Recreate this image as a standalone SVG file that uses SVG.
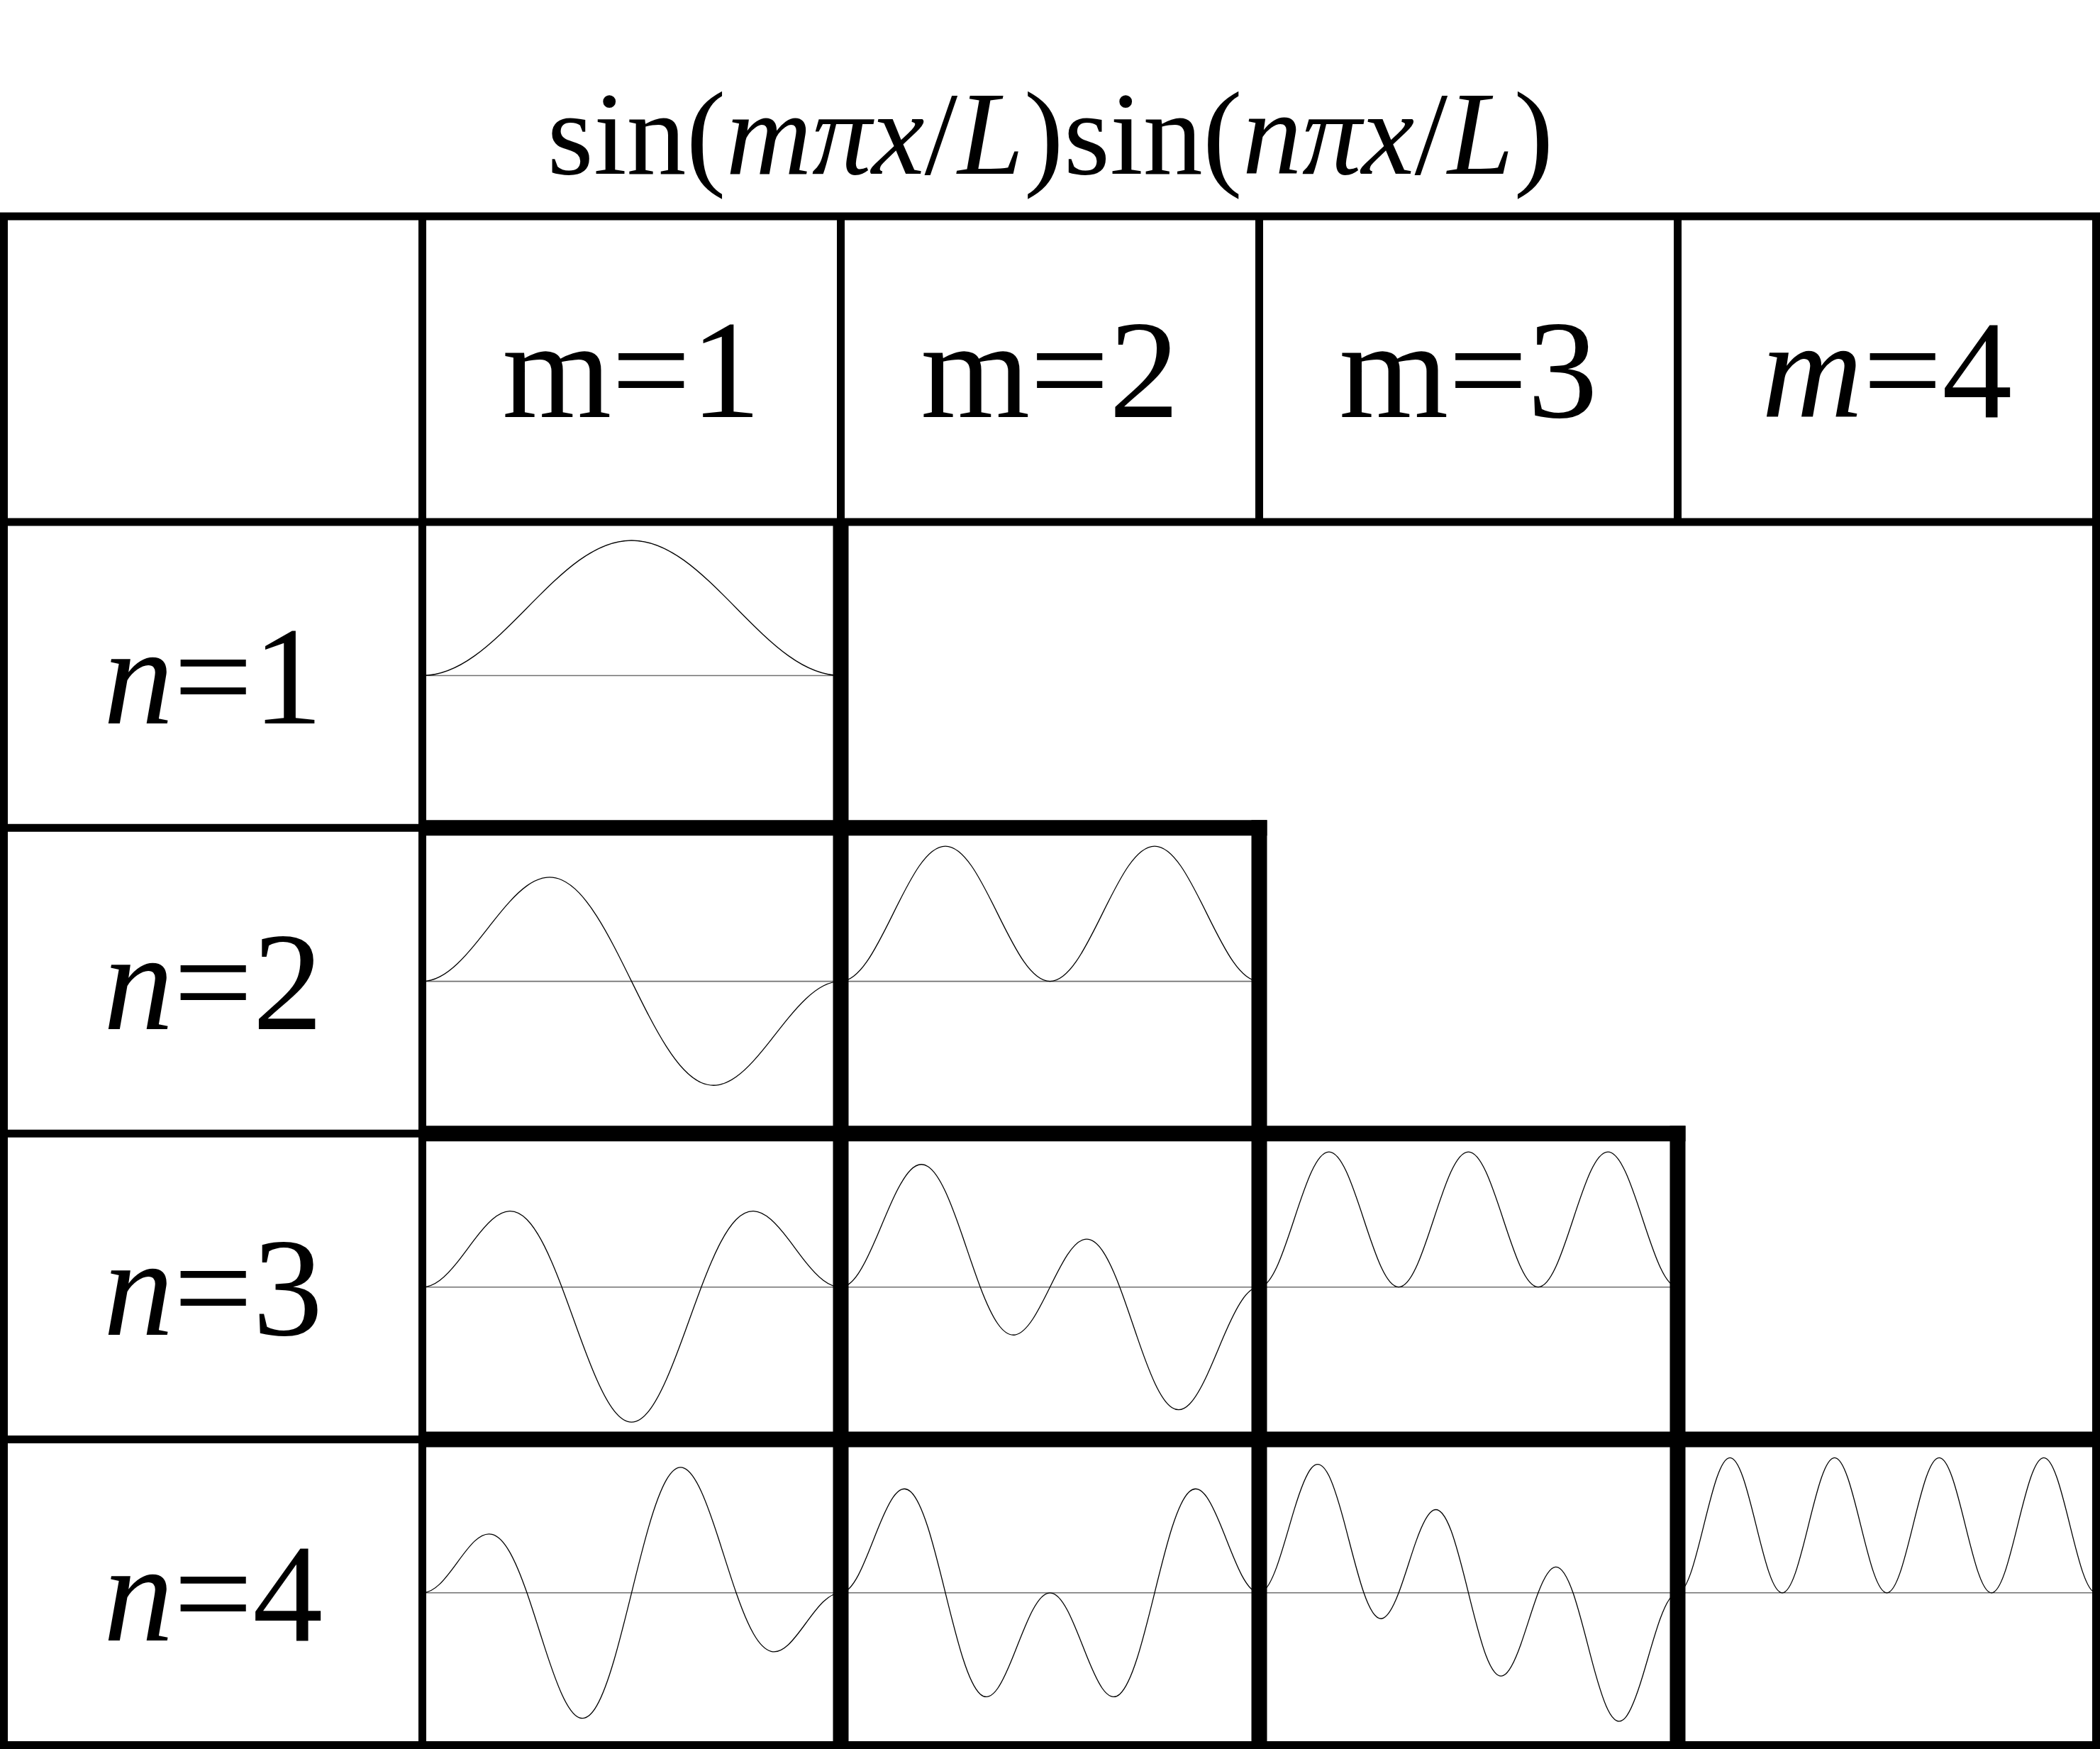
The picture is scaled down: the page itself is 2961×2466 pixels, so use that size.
<svg xmlns="http://www.w3.org/2000/svg" width="2961" height="2466" viewBox="0 0 2961 2466">
<style>
.t{font-family:"Liberation Serif","Times New Roman",serif;fill:#000}
.lbl{font-size:198px;text-anchor:middle}
.ttl{font-size:168px;text-anchor:middle}
.i{font-style:italic}
.thin{stroke:#000;stroke-width:11;fill:none;stroke-linecap:butt}
.thick{stroke:#000;stroke-width:22;fill:none;stroke-linecap:butt}
.base{stroke:#707070;stroke-width:1.6}
.wave{fill:none;stroke:#000;stroke-width:1.3}
</style>
<rect width="2961" height="2466" fill="#fff"/>
<g id="title"><text class="t ttl" x="1481" y="245">sin(<tspan class="i">mπx</tspan>/<tspan class="i">L</tspan>)sin(<tspan class="i">nπx</tspan>/<tspan class="i">L</tspan>)</text></g>
<g id="headers">
<g id="head-m1"><text class="t lbl" x="890.5" y="588">m=1</text></g>
<g id="head-m2"><text class="t lbl" x="1480.5" y="588">m=2</text></g>
<g id="head-m3"><text class="t lbl" x="2070.5" y="588">m=3</text></g>
<g id="head-m4"><text class="t lbl" x="2660.5" y="588"><tspan class="i">m</tspan>=4</text></g>
</g>
<g id="rows">
<g id="row-n1"><text class="t lbl" x="300.5" y="1020"><tspan class="i">n</tspan>=1</text></g>
<g id="row-n2"><text class="t lbl" x="300.5" y="1451"><tspan class="i">n</tspan>=2</text></g>
<g id="row-n3"><text class="t lbl" x="300.5" y="1882"><tspan class="i">n</tspan>=3</text></g>
<g id="row-n4"><text class="t lbl" x="300.5" y="2313"><tspan class="i">n</tspan>=4</text></g>
</g>
<g id="cells">
<g id="cell-m1-n1">
<line class="base" x1="595.5" y1="952.5" x2="1185.5" y2="952.5"/>
<path class="wave" vector-effect="non-scaling-stroke" transform="translate(595.5,952.5) scale(73.75,-95.25)" d="M0,0c.3333,0 .6667,.1078 1,.2929c.3333,.1851 .6667,.4453 1,.7071c.3333,.2618 .6667,.522 1,.7071c.3333,.1851 .6667,.2929 1,.2929c.3333,0 .6667,-.1078 1,-.2929c.3333,-.1851 .6667,-.4453 1,-.7071c.3333,-.2618 .6667,-.522 1,-.7071c.3333,-.1851 .6667,-.2929 1,-.2929"/>
</g>
<g id="cell-m1-n2">
<line class="base" x1="595.5" y1="1383.6" x2="1185.5" y2="1383.6"/>
<path class="wave" vector-effect="non-scaling-stroke" transform="translate(595.5,1383.6) scale(24.58333,-95.25)" d="M0,0C.333,0 .667,.0232 1,.0676S1.667,.1775 2,.2588S2.667,.437 3,.5412S3.667,.7569 4,.866S4.667,1.0816 5,1.176S5.667,1.3525 6,1.4142S6.667,1.5171 7,1.5326S7.667,1.5378 8,1.5S8.667,1.397 9,1.3066S9.667,1.1006 10,.9659S10.667,.6774 11,.5132S11.667,.1745 12,0S12.667,-.349 13,-.5132S13.667,-.8312 14,-.9659S14.667,-1.2162 15,-1.3066S15.667,-1.4622 16,-1.5S16.667,-1.5481 17,-1.5326S17.667,-1.4759 18,-1.4142S18.667,-1.2704 19,-1.176S19.667,-.9751 20,-.866S20.667,-.6454 21,-.5412S21.667,-.3401 22,-.2588S22.667,-.112 23,-.0676S23.667,0 24,0"/>
</g>
<g id="cell-m2-n2">
<line class="base" x1="1185.5" y1="1383.6" x2="1775.5" y2="1383.6"/>
<path class="wave" vector-effect="non-scaling-stroke" transform="translate(1185.5,1383.6) scale(36.875,-95.25)" d="M0,0c.3333,0 .6667,.1078 1,.2929c.3333,.1851 .6667,.4453 1,.7071c.3333,.2618 .6667,.522 1,.7071c.3333,.1851 .6667,.2929 1,.2929c.3333,0 .6667,-.1078 1,-.2929c.3333,-.1851 .6667,-.4453 1,-.7071c.3333,-.2618 .6667,-.522 1,-.7071c.3333,-.1851 .6667,-.2929 1,-.2929c.3333,0 .6667,.1078 1,.2929c.3333,.1851 .6667,.4453 1,.7071c.3333,.2618 .6667,.522 1,.7071c.3333,.1851 .6667,.2929 1,.2929c.3333,0 .6667,-.1078 1,-.2929c.3333,-.1851 .6667,-.4453 1,-.7071c.3333,-.2618 .6667,-.522 1,-.7071c.3333,-.1851 .6667,-.2929 1,-.2929"/>
</g>
<g id="cell-m1-n3">
<line class="base" x1="595.5" y1="1814.7" x2="1185.5" y2="1814.7"/>
<path class="wave" vector-effect="non-scaling-stroke" transform="translate(595.5,1814.7) scale(24.58333,-95.25)" d="M0,0C.333,0 .667,.0352 1,.0999S1.667,.2585 2,.366S2.667,.5943 3,.7071S3.667,.9244 4,1S4.667,1.1218 5,1.1248S5.667,1.0873 6,1S6.667,.7788 7,.6072S7.667,.2267 8,0S8.667,-.4709 9,-.7071S9.667,-1.1712 10,-1.366S10.667,-1.7221 11,-1.832S11.667,-2 12,-2S12.667,-1.9419 13,-1.832S13.667,-1.5608 14,-1.366S14.667,-.9433 15,-.7071S15.667,-.2267 16,0S16.667,.4356 17,.6072S17.667,.9127 18,1S18.667,1.1278 19,1.1248S19.667,1.0756 20,1S20.667,.8199 21,.7071S21.667,.4735 22,.366S22.667,.1646 23,.0999S23.667,0 24,0"/>
</g>
<g id="cell-m2-n3">
<line class="base" x1="1185.5" y1="1814.7" x2="1775.5" y2="1814.7"/>
<path class="wave" vector-effect="non-scaling-stroke" transform="translate(1185.5,1814.7) scale(24.58333,-95.25)" d="M0,0C.333,0 .667,.071 1,.1981S1.667,.5077 2,.7071S2.667,1.1217 3,1.3066S3.667,1.6448 4,1.7321S4.667,1.8398 5,1.7848S5.667,1.5993 6,1.4142S6.667,.9902 7,.7393S7.667,.2267 8,0S8.667,-.4174 9,-.5412S9.667,-.7214 10,-.7071S10.667,-.608 11,-.4782S11.667,-.1745 12,0S12.667,.3484 13,.4782S13.667,.6928 14,.7071S14.667,.665 15,.5412S15.667,.2267 16,0S16.667,-.4884 17,-.7393S17.667,-1.2291 18,-1.4142S18.667,-1.7298 19,-1.7848S19.667,-1.8194 20,-1.7321S20.667,-1.4915 21,-1.3066S21.667,-.9065 22,-.7071S22.667,-.3252 23,-.1981S23.667,0 24,0"/>
</g>
<g id="cell-m3-n3">
<line class="base" x1="1775.5" y1="1814.7" x2="2365.5" y2="1814.7"/>
<path class="wave" vector-effect="non-scaling-stroke" transform="translate(1775.5,1814.7) scale(24.58333,-95.25)" d="M0,0c.3333,0 .6667,.1078 1,.2929c.3333,.1851 .6667,.4453 1,.7071c.3333,.2618 .6667,.522 1,.7071c.3333,.1851 .6667,.2929 1,.2929c.3333,0 .6667,-.1078 1,-.2929c.3333,-.1851 .6667,-.4453 1,-.7071c.3333,-.2618 .6667,-.522 1,-.7071c.3333,-.1851 .6667,-.2929 1,-.2929c.3333,0 .6667,.1078 1,.2929c.3333,.1851 .6667,.4453 1,.7071c.3333,.2618 .6667,.522 1,.7071c.3333,.1851 .6667,.2929 1,.2929c.3333,0 .6667,-.1078 1,-.2929c.3333,-.1851 .6667,-.4453 1,-.7071c.3333,-.2618 .6667,-.522 1,-.7071c.3333,-.1851 .6667,-.2929 1,-.2929c.3333,0 .6667,.1078 1,.2929c.3333,.1851 .6667,.4453 1,.7071c.3333,.2618 .6667,.522 1,.7071c.3333,.1851 .6667,.2929 1,.2929c.3333,0 .6667,-.1078 1,-.2929c.3333,-.1851 .6667,-.4453 1,-.7071c.3333,-.2618 .6667,-.522 1,-.7071c.3333,-.1851 .6667,-.2929 1,-.2929"/>
</g>
<g id="cell-m1-n4">
<line class="base" x1="595.5" y1="2245.8" x2="1185.5" y2="2245.8"/>
<path class="wave" vector-effect="non-scaling-stroke" transform="translate(595.5,2245.8) scale(24.58333,-95.25)" d="M0,0C.333,0 .667,.0478 1,.1305S1.667,.3301 2,.4483S2.667,.6848 3,.7654S3.667,.8878 4,.866S4.667,.7582 5,.6088S5.667,.2468 6,0S6.667,-.527 7,-.7934S7.667,-1.3111 8,-1.5S8.667,-1.8144 9,-1.8478S9.667,-1.822 10,-1.673S10.667,-1.2854 11,-.9914S11.667,-.3491 12,0S12.667,.6974 13,.9914S13.667,1.524 14,1.673S14.667,1.8812 15,1.8478S15.667,1.6889 16,1.5S16.667,1.0598 17,.7934S17.667,.2468 18,0S18.667,-.4594 19,-.6088S19.667,-.8442 20,-.866S20.667,-.846 21,-.7654S21.667,-.5665 22,-.4483S22.667,-.2132 23,-.1305S23.667,0 24,0"/>
</g>
<g id="cell-m2-n4">
<line class="base" x1="1185.5" y1="2245.8" x2="1775.5" y2="2245.8"/>
<path class="wave" vector-effect="non-scaling-stroke" transform="translate(1185.5,2245.8) scale(24.58333,-95.25)" d="M0,0C.333,0 .667,.0963 1,.2588S1.667,.6478 2,.866S2.667,1.2908 3,1.4142S3.667,1.5756 4,1.5S4.667,1.2353 5,.9659S5.667,.3491 6,0S6.667,-.6965 7,-.9659S7.667,-1.4244 8,-1.5S8.667,-1.5376 9,-1.4142S9.667,-1.0842 10,-.866S10.667,-.4213 11,-.2588S11.667,0 12,0S12.667,-.0963 13,-.2588S13.667,-.6478 14,-.866S14.667,-1.2908 15,-1.4142S15.667,-1.5756 16,-1.5S16.667,-1.2353 17,-.9659S17.667,-.3491 18,0S18.667,.6965 19,.9659S19.667,1.4244 20,1.5S20.667,1.5376 21,1.4142S21.667,1.0842 22,.866S22.667,.4213 23,.2588S23.667,0 24,0"/>
</g>
<g id="cell-m3-n4">
<line class="base" x1="1775.5" y1="2245.8" x2="2365.5" y2="2245.8"/>
<path class="wave" vector-effect="non-scaling-stroke" transform="translate(1775.5,2245.8) scale(24.58333,-95.25)" d="M0,0C.333,0 .667,.1461 1,.3827S1.667,.941 2,1.2247S2.667,1.7476 3,1.8478S3.667,1.9066 4,1.7321S4.667,1.2533 5,.9239S5.667,.2468 6,0S6.667,-.388 7,-.3827S7.667,-.2267 8,0S8.667,.5235 9,.7654S9.667,1.1878 10,1.2247S10.667,1.1531 11,.9239S11.667,.3491 12,0S12.667,-.6947 13,-.9239S13.667,-1.2616 14,-1.2247S14.667,-1.0073 15,-.7654S15.667,-.2267 16,0S16.667,.3774 17,.3827S17.667,.2468 18,0S18.667,-.5945 19,-.9239S19.667,-1.5576 20,-1.7321S20.667,-1.948 21,-1.8478S21.667,-1.5084 22,-1.2247S22.667,-.6193 23,-.3827S23.667,0 24,0"/>
</g>
<g id="cell-m4-n4">
<line class="base" x1="2365.5" y1="2245.8" x2="2955.5" y2="2245.8"/>
<path class="wave" vector-effect="non-scaling-stroke" transform="translate(2365.5,2245.8) scale(18.4375,-95.25)" d="M0,0c.3333,0 .6667,.1078 1,.2929c.3333,.1851 .6667,.4453 1,.7071c.3333,.2618 .6667,.522 1,.7071c.3333,.1851 .6667,.2929 1,.2929c.3333,0 .6667,-.1078 1,-.2929c.3333,-.1851 .6667,-.4453 1,-.7071c.3333,-.2618 .6667,-.522 1,-.7071c.3333,-.1851 .6667,-.2929 1,-.2929c.3333,0 .6667,.1078 1,.2929c.3333,.1851 .6667,.4453 1,.7071c.3333,.2618 .6667,.522 1,.7071c.3333,.1851 .6667,.2929 1,.2929c.3333,0 .6667,-.1078 1,-.2929c.3333,-.1851 .6667,-.4453 1,-.7071c.3333,-.2618 .6667,-.522 1,-.7071c.3333,-.1851 .6667,-.2929 1,-.2929c.3333,0 .6667,.1078 1,.2929c.3333,.1851 .6667,.4453 1,.7071c.3333,.2618 .6667,.522 1,.7071c.3333,.1851 .6667,.2929 1,.2929c.3333,0 .6667,-.1078 1,-.2929c.3333,-.1851 .6667,-.4453 1,-.7071c.3333,-.2618 .6667,-.522 1,-.7071c.3333,-.1851 .6667,-.2929 1,-.2929c.3333,0 .6667,.1078 1,.2929c.3333,.1851 .6667,.4453 1,.7071c.3333,.2618 .6667,.522 1,.7071c.3333,.1851 .6667,.2929 1,.2929c.3333,0 .6667,-.1078 1,-.2929c.3333,-.1851 .6667,-.4453 1,-.7071c.3333,-.2618 .6667,-.522 1,-.7071c.3333,-.1851 .6667,-.2929 1,-.2929"/>
</g>
</g>
<g id="grid">
<rect class="thin" x="5.5" y="305" width="2950" height="2155.5"/>
<line class="thin" x1="0" y1="736.1" x2="2961" y2="736.1"/>
<line class="thin" x1="595.5" y1="305" x2="595.5" y2="2460.5"/>
<line class="thin" x1="1185.5" y1="305" x2="1185.5" y2="736.1"/>
<line class="thin" x1="1775.5" y1="305" x2="1775.5" y2="736.1"/>
<line class="thin" x1="2365.5" y1="305" x2="2365.5" y2="736.1"/>
<line class="thin" x1="0" y1="1167.2" x2="595.5" y2="1167.2"/>
<line class="thin" x1="0" y1="1598.3" x2="595.5" y2="1598.3"/>
<line class="thin" x1="0" y1="2029.4" x2="595.5" y2="2029.4"/>
<line class="thick" x1="1185.5" y1="736.1" x2="1185.5" y2="2460.5"/>
<line class="thick" x1="590" y1="1167.2" x2="1786.5" y2="1167.2"/>
<line class="thick" x1="1775.5" y1="1156.2" x2="1775.5" y2="2460.5"/>
<line class="thick" x1="590" y1="1598.3" x2="2376.5" y2="1598.3"/>
<line class="thick" x1="2365.5" y1="1587.3" x2="2365.5" y2="2460.5"/>
<line class="thick" x1="590" y1="2029.4" x2="2961" y2="2029.4"/>
</g>
</svg>
